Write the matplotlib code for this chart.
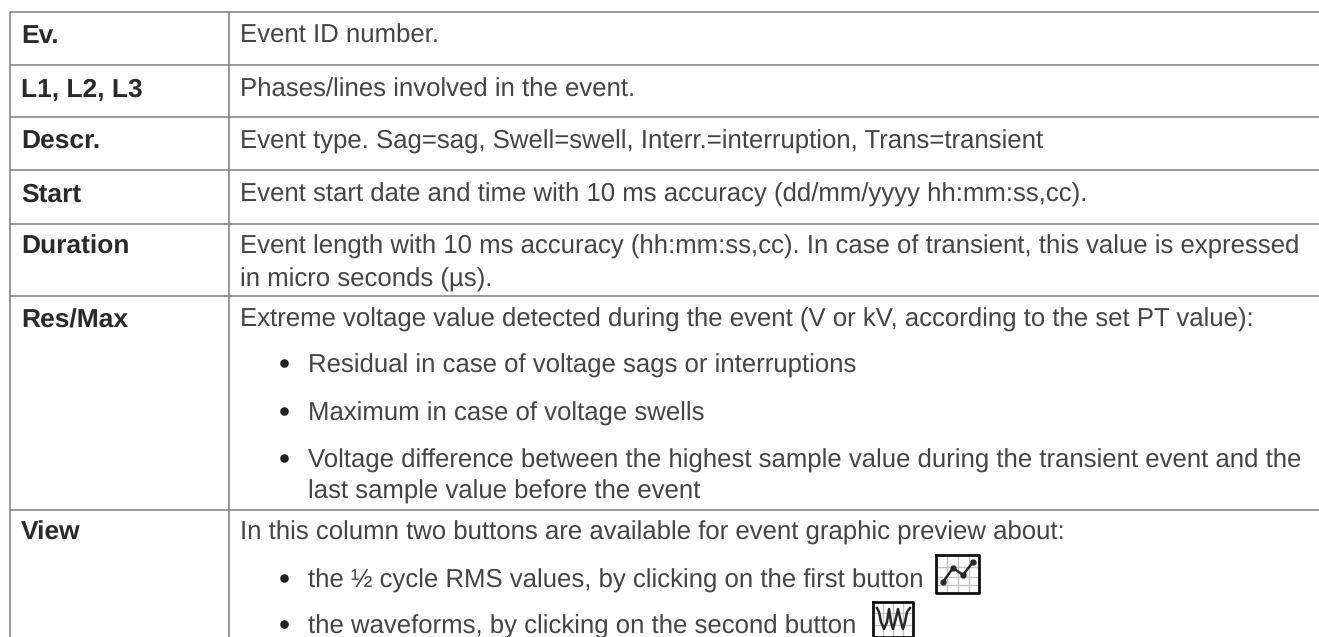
import matplotlib
matplotlib.use("Agg")
import matplotlib.pyplot as plt

plt.rcParams["text.hinting"] = "no_hinting"

# table contents, top to bottom
row_labels = ["Ev.", "L1, L2, L3", "Descr.", "Start", "Duration", "Res/Max", "View"]
label_baselines = [43, 97, 149, 202, 254, 327, 540]
rule_ys = [12, 65, 117, 170, 224, 296, 510]

body_lines = [
    "Event ID number.",
    "Phases/lines involved in the event.",
    "Event type. Sag=sag, Swell=swell, Interr.=interruption, Trans=transient",
    "Event start date and time with 10 ms accuracy (dd/mm/yyyy hh:mm:ss,cc).",
    "Event length with 10 ms accuracy (hh:mm:ss,cc). In case of transient, this value is expressed",
    "in micro seconds (µs).",
    "Extreme voltage value detected during the event (V or kV, according to the set PT value):",
    "In this column two buttons are available for event graphic preview about:",
]
body_baselines = [43, 97, 149, 202, 254, 287, 327, 540]

bullet_lines = [
    "Residual in case of voltage sags or interruptions",
    "Maximum in case of voltage swells",
    "Voltage difference between the highest sample value during the transient event and the",
    "the ½ cycle RMS values, by clicking on the first button",
    "the waveforms, by clicking on the second button",
]
bullet_baselines = [373, 421, 468, 588, 634]
wrapped_line = "last sample value before the event"
wrapped_baseline = 499

# the two little button icons
rms_box = [936, 979, 555, 593]
rms_x = [943, 953, 963, 973]
rms_y = [582, 568, 575, 562]
rms_grid_x = [947, 958, 969]
rms_grid_y = [567, 577, 585]
wave_box = [873, 913, 602, 637]
wave_x = [877, 879, 881, 884, 887, 889, 891, 893, 895, 898, 901, 903, 905, 907, 910]
wave_y = [608, 612, 622, 629, 622, 609, 622, 629, 622, 609, 622, 629, 622, 612, 608]
wave_grid_x = [883, 893, 903]
wave_grid_y = [613, 625]

FONT = "Liberation Sans"
TEXT_COLOR = "#454545"
RULE_COLOR = "#7f7f7f"
SIZE = 18.5


def draw_icon(box, xs, ys, grid_x, grid_y, dots):
    left, right, top, bottom = box
    for x in grid_x:
        ax.plot([x, x], [top, bottom], color="#c4c4c4", lw=1.0)
    for y in grid_y:
        ax.plot([left, right], [y, y], color="#c4c4c4", lw=1.0)
    ax.plot(xs, ys, color="#2a2a2a", lw=1.8, marker="o" if dots else None, ms=3.5)
    ax.plot([left, right, right, left, left], [top, top, bottom, bottom, top],
            color="#111111", lw=2.0)


fig = plt.figure(figsize=(13.19, 6.37), dpi=100)
ax = fig.add_axes([0, 0, 1, 1])
ax.set_xlim(0, 1319)
ax.set_ylim(637, 0)
ax.axis("off")

for y in rule_ys:
    ax.plot([10, 1319], [y, y], color=RULE_COLOR, lw=1.1, solid_capstyle="butt")
ax.plot([10, 10], [12, 637], color=RULE_COLOR, lw=1.1)
ax.plot([229, 229], [12, 637], color=RULE_COLOR, lw=1.1)

for label, y in zip(row_labels, label_baselines):
    ax.text(21, y, label, family=FONT, weight="bold", size=19, color="#2a2a2a", va="baseline")
for line, y in zip(body_lines, body_baselines):
    ax.text(240, y, line, family=FONT, size=SIZE, color=TEXT_COLOR, va="baseline")
for line, y in zip(bullet_lines, bullet_baselines):
    ax.plot([284], [y - 10], "o", color="#222222", ms=6.2, mew=0)
    ax.text(308, y, line, family=FONT, size=SIZE, color=TEXT_COLOR, va="baseline")
ax.text(308, wrapped_baseline, wrapped_line, family=FONT, size=SIZE, color=TEXT_COLOR, va="baseline")

draw_icon(rms_box, rms_x, rms_y, rms_grid_x, rms_grid_y, True)
draw_icon(wave_box, wave_x, wave_y, wave_grid_x, wave_grid_y, False)

fig.savefig("out.png", dpi=100)
